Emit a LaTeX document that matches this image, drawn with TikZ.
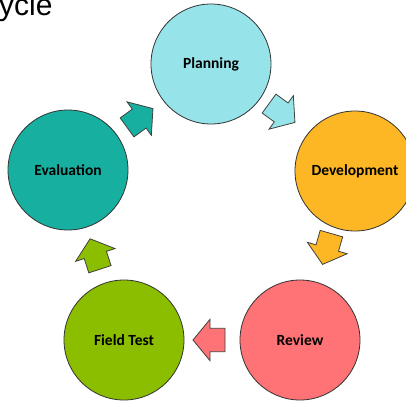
\documentclass[tikz,border=0pt]{standalone}
\usepackage{fontspec}
\setmainfont{Liberation Sans}
\newfontfamily\labelfont{Carlito}
\definecolor{cPlan}{HTML}{96E4EA}
\definecolor{cDev}{HTML}{FDB724}
\definecolor{cRev}{HTML}{FF7276}
\definecolor{cField}{HTML}{8CBE00}
\definecolor{cEval}{HTML}{17B0A0}
\begin{document}
\begin{tikzpicture}[x=1pt,y=-1pt,
  stage/.style={circle, draw=black!80, line width=0.8pt, minimum size=120pt, inner sep=0pt,
    font=\labelfont\bfseries\fontsize{15.5}{18}\selectfont},
  blockarrow/.style={draw=black!75, line width=0.8pt, line join=miter},
  barrow/.pic={\path[pic actions] (-16,11.7) -- (-1,11.7) -- (-1,20.7) -- (16,0) -- (-1,-20.7) -- (-1,-11.7) -- (-16,-11.7) -- cycle;}]
\useasboundingbox (0,0) rectangle (406,400);
\node[stage, fill=cPlan] (plan) at (211,64) {Planning};
\node[stage, fill=cDev] (dev) at (355,171) {Development};
\node[stage, fill=cRev] (rev) at (300,340) {Review};
\node[stage, fill=cField] (field) at (124,340) {Field Test};
\node[stage, fill=cEval] (eval) at (68,170) {Evaluation};
\pic[blockarrow, fill=cEval, rotate=36] (aEP) at (140,118) {barrow};
\pic[blockarrow, fill=cPlan, rotate=-36] (aPD) at (282,113) {barrow};
\pic[blockarrow, fill=cDev, rotate=-106] (aDR) at (327,249) {barrow};
\pic[blockarrow, fill=cRev, rotate=180] (aRF) at (209,340) {barrow};
\pic[blockarrow, fill=cField, rotate=108] (aFE) at (95,254) {barrow};
\node[anchor=base west, inner sep=0pt, font=\fontsize{30}{36}\selectfont] (title) at (-1,15) {ycle};
\end{tikzpicture}
\end{document}
